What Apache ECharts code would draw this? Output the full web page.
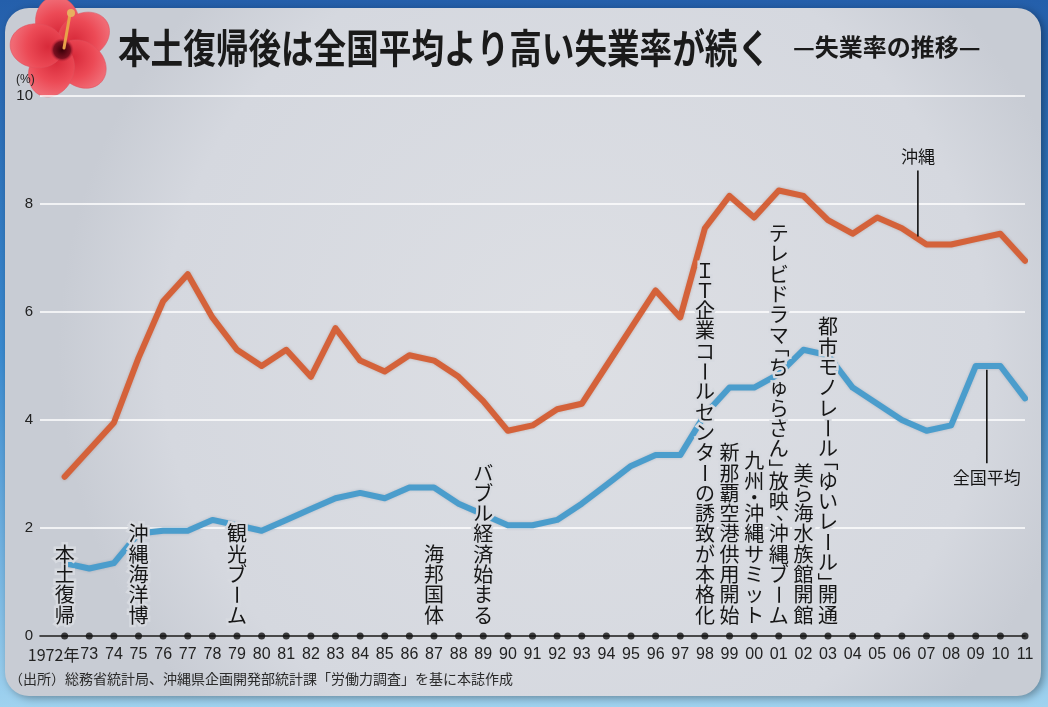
<!DOCTYPE html>
<html>
<head>
<meta charset="utf-8">
<script src="https://cdn.jsdelivr.net/npm/echarts@6/dist/echarts.min.js"></script>
<style>
html,body{margin:0;padding:0;width:1048px;height:707px;overflow:hidden;background:#3a86cc;}
#chart{width:1048px;height:707px;}
</style>
</head>
<body>
<div id="chart"></div>
<script>
// ---- data ----
const years = [1972,1973,1974,1975,1976,1977,1978,1979,1980,1981,1982,1983,1984,1985,1986,1987,1988,1989,1990,1991,
               1992,1993,1994,1995,1996,1997,1998,1999,2000,2001,2002,2003,2004,2005,2006,2007,2008,2009,2010,2011];
const okinawa = [2.95,3.45,3.95,5.15,6.2,6.7,5.9,5.3,5.0,5.3,4.8,5.7,5.1,4.9,5.2,5.1,4.8,4.35,3.8,3.9,
                 4.2,4.3,5.0,5.7,6.4,5.9,7.55,8.15,7.75,8.25,8.15,7.7,7.45,7.75,7.55,7.25,7.25,7.35,7.45,6.95];
const national = [1.35,1.25,1.35,1.9,1.95,1.95,2.15,2.05,1.95,2.15,2.35,2.55,2.65,2.55,2.75,2.75,2.45,2.25,2.05,2.05,
                  2.15,2.45,2.8,3.15,3.35,3.35,4.1,4.6,4.6,4.85,5.3,5.2,4.6,4.3,4.0,3.8,3.9,5.0,5.0,4.4];
const yTicks = [0,2,4,6,8,10];
const eventYears = [1972,1975,1979,1987,1989,1998,1999,2000,2001,2002,2003];
const eventLabels = ['本土復帰','沖縄海洋博','観光ブーム','海邦国体','バブル経済始まる',
  'ＩＴ企業コールセンターの誘致が本格化','新那覇空港供用開始','九州・沖縄サミット',
  'テレビドラマ「ちゅらさん」放映、沖縄ブーム','美ら海水族館開館','都市モノレール「ゆいレール」開通'];
const seriesNames = ['沖縄','全国平均'];
// callout: [label x (year), label y (value), leader top value, leader bottom value]
const callouts = [[2006.65, 8.88, 8.62, 7.40],[2009.45, 2.94, 4.93, 3.20]];
const titleText = '本土復帰後は全国平均より高い失業率が続く';
const subtitleText = '—失業率の推移—';
const sourceText = '（出所）総務省統計局、沖縄県企画開発部統計課「労働力調査」を基に本誌作成';

const chart = echarts.init(document.getElementById('chart'));
const SANS = '"Noto Sans CJK JP","Liberation Sans",sans-serif';
const NUM = '"Liberation Sans","DejaVu Sans",sans-serif';
const PANEL = '#d7dae0';

chart.setOption({
  animation: false,
  backgroundColor: 'transparent',
  grid: {left: 40, right: 23, top: 96, bottom: 71, containLabel: false, outerBoundsMode: 'none'},
  xAxis: {
    type: 'value', min: 1971, max: 2011, interval: 1,
    axisLine: {show: true, lineStyle: {color: '#111', width: 1.5}},
    axisTick: {show: false}, splitLine: {show: false},
    axisLabel: {
      show: true, margin: 11, fontSize: 16, color: '#222', fontFamily: NUM,
      showMinLabel: true, showMaxLabel: true, hideOverlap: false,
      formatter: function (v) {
        if (v < years[0]) return '';
        if (v === years[0]) return '{f|' + v + '年}';
        return String(v).slice(2);
      },
      rich: {f: {fontSize: 16, color: '#222', fontFamily: SANS, padding: [0, 22, 0, 0]}}
    }
  },
  yAxis: {
    type: 'value', min: yTicks[0], max: yTicks[yTicks.length - 1], interval: yTicks[1] - yTicks[0],
    axisLine: {show: false}, axisTick: {show: false},
    axisLabel: {margin: 7, fontSize: 15, color: '#222', fontFamily: NUM},
    splitLine: {show: true, lineStyle: {color: '#ffffff', width: 1.6}}
  },
  series: [
    {name: seriesNames[0], type: 'line', data: years.map((y, i) => [y, okinawa[i]]),
     symbol: 'none', z: 3, lineStyle: {color: '#d4623a', width: 6, cap: 'round', join: 'round',
       shadowColor: 'rgba(120,40,10,0.25)', shadowBlur: 3}},
    {name: seriesNames[1], type: 'line', data: years.map((y, i) => [y, national[i]]),
     symbol: 'none', z: 3, lineStyle: {color: '#4b9dcc', width: 6, cap: 'round', join: 'round',
       shadowColor: 'rgba(20,60,100,0.2)', shadowBlur: 3}},
    {type: 'scatter', data: years.map(y => [y, 0]), symbol: 'circle', symbolSize: 7,
     itemStyle: {color: '#111'}, z: 6, silent: true}
  ]
});

const px = (x, y) => chart.convertToPixel({gridIndex: 0}, [x, y]);
const G = [];

// background frame and panel
G.push({type: 'rect', z: -100, shape: {x: 0, y: 0, width: 1048, height: 707},
  style: {fill: {type: 'linear', x: 0, y: 0, x2: 0, y2: 1, colorStops: [
    {offset: 0, color: '#245fab'}, {offset: 0.5, color: '#3b8bd0'}, {offset: 1, color: '#9fd2ef'}]}}});
G.push({type: 'rect', z: -99, shape: {x: 5, y: 8, width: 1036, height: 688, r: 24},
  style: {fill: {type: 'radial', x: 0.55, y: 0.5, r: 0.75, colorStops: [
    {offset: 0, color: '#dddfe4'}, {offset: 0.8, color: '#d5d8df'}, {offset: 1, color: '#c8ccd4'}]},
    shadowColor: 'rgba(0,0,0,0.35)', shadowBlur: 8, shadowOffsetX: 3, shadowOffsetY: 2}});

// hibiscus flower
const fcx = 62, fcy = 48;
const petalAngles = [-100, -30, 40, 115, 185];
petalAngles.forEach(a => {
  const t = a * Math.PI / 180;
  G.push({type: 'ellipse', z: -50, x: fcx + 25 * Math.cos(t), y: fcy + 25 * Math.sin(t), rotation: -t,
    shape: {cx: 0, cy: 0, rx: 27, ry: 22},
    style: {fill: {type: 'radial', x: 0.3, y: 0.5, r: 0.8, colorStops: [
      {offset: 0, color: '#d82a3a'}, {offset: 0.6, color: '#ec4a56'}, {offset: 1, color: '#f06a74'}]},
      stroke: '#e0505c', lineWidth: 0.5}});
});
G.push({type: 'circle', z: -49, shape: {cx: fcx, cy: fcy + 2, r: 12},
  style: {fill: {type: 'radial', x: 0.5, y: 0.5, r: 0.5, colorStops: [
    {offset: 0, color: '#3a0008'}, {offset: 0.7, color: '#7a1020'}, {offset: 1, color: 'rgba(200,40,60,0)'}]}}});
G.push({type: 'line', z: -48, shape: {x1: fcx + 2, y1: fcy, x2: fcx + 8, y2: 14},
  style: {stroke: '#e8a24a', lineWidth: 3, lineCap: 'round'}});
G.push({type: 'circle', z: -48, shape: {cx: fcx + 9, cy: 13, r: 4}, style: {fill: '#e8b060'}});

// titles
G.push({type: 'text', z: 10, x: 118, y: 48, scaleX: 0.815,
  style: {text: titleText, fill: '#1a1a1a', font: 'bold 40px ' + SANS, textAlign: 'left', textVerticalAlign: 'middle'}});
G.push({type: 'text', z: 10, x: 793, y: 47,
  style: {text: subtitleText, fill: '#1a1a1a', font: 'bold 24px ' + SANS, textAlign: 'left', textVerticalAlign: 'middle'}});
G.push({type: 'text', z: 10, x: 16, y: 80,
  style: {text: '(%)', fill: '#222', font: '12px ' + NUM, textAlign: 'left', textVerticalAlign: 'middle'}});
G.push({type: 'text', z: 10, x: 9, y: 679,
  style: {text: sourceText, fill: '#2a2a2a', font: '14px ' + SANS, textAlign: 'left', textVerticalAlign: 'middle'}});

// vertical annotations
const ROT = 'ー「」';
const HALF = '「」、・';
const STEP = 20.3;
function vertical(label, cx, bottom) {
  const chars = Array.from(label);
  const steps = chars.map(c => HALF.includes(c) ? STEP * 0.6 : STEP);
  let y = bottom - steps.reduce((a, b) => a + b, 0);
  chars.forEach((c, i) => {
    const cy = y + steps[i] / 2;
    y += steps[i];
    let dx = 0, dy = 0;
    if (c === '、') { dx = 7; dy = -5; }
    if (c === '「') { dy = -4; }
    if (c === '」') { dy = 4; }
    const rot = ROT.includes(c) ? -Math.PI / 2 : 0;
    const base = {x: cx + dx, y: cy + dy, rotation: rot};
    G.push(Object.assign({type: 'text', z: 40}, base, {style: {text: c, fill: PANEL, stroke: PANEL, lineWidth: 5,
      font: '20px ' + SANS, textAlign: 'center', textVerticalAlign: 'middle'}}));
    G.push(Object.assign({type: 'text', z: 41}, base, {style: {text: c, fill: '#161616',
      font: '20px ' + SANS, textAlign: 'center', textVerticalAlign: 'middle'}}));
  });
}
eventYears.forEach((yr, i) => {
  const p = px(yr, 0.2);
  vertical(eventLabels[i], p[0], p[1]);
});

// callouts
callouts.forEach((c, i) => {
  const lp = px(c[0], c[1]);
  const a = px(c[0], c[2]);
  const b = px(c[0], c[3]);
  G.push({type: 'line', z: 30, shape: {x1: a[0], y1: a[1], x2: b[0], y2: b[1]}, style: {stroke: '#111', lineWidth: 1.6}});
  G.push({type: 'text', z: 31, x: lp[0], y: lp[1],
    style: {text: seriesNames[i], fill: '#161616', font: '17px ' + SANS, textAlign: 'center', textVerticalAlign: 'middle'}});
});

chart.setOption({graphic: {elements: G}});
</script>
</body>
</html>
